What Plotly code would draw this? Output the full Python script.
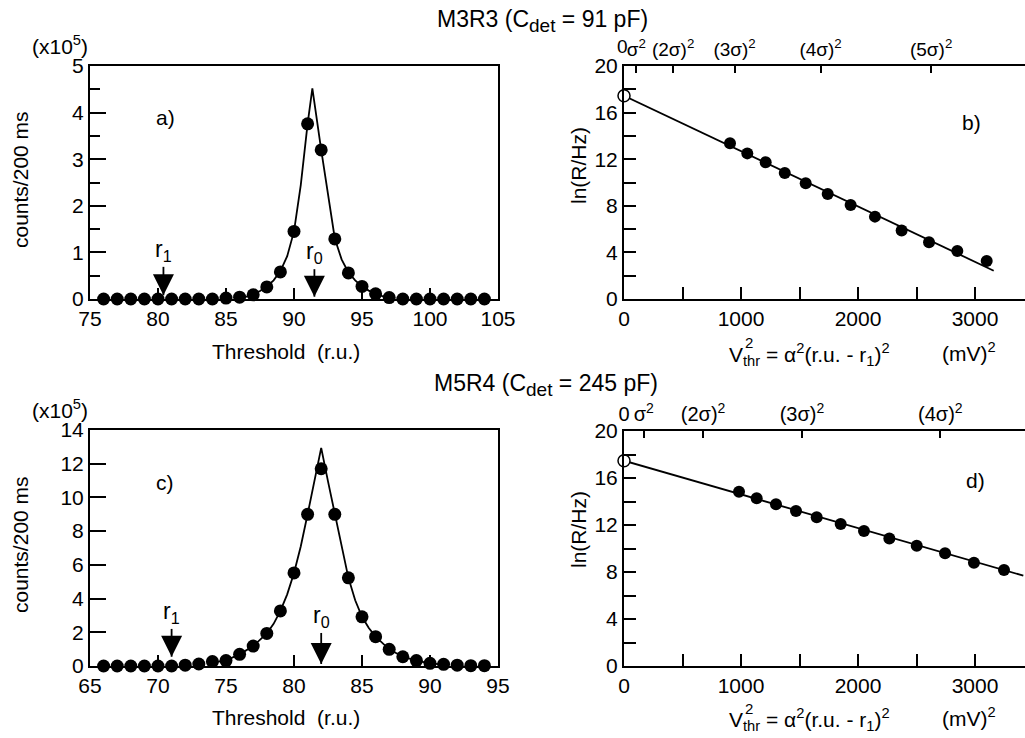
import plotly.graph_objects as go

W, H = 1025, 738
FONT = "Liberation Sans, Arial, Helvetica, sans-serif"
BLACK = "#000000"

# ---------------- data ----------------
# a) M3R3 threshold scan (counts in units of 1e5 per 200 ms)
thr_a = list(range(76, 105))
counts_a = [0, 0, 0, 0, 0, 0, 0, 0, 0, 0.02, 0.04, 0.09, 0.26, 0.58, 1.45,
            3.76, 3.2, 1.29, 0.56, 0.27, 0.11, 0.03, 0, 0, 0, 0, 0, 0, 0]
fit_thr_a = [86, 86.5, 87, 87.5, 88, 88.5, 89, 89.5, 90, 90.5, 91, 91.35,
             92, 92.5, 93, 93.5, 94, 94.5, 95, 95.5, 96, 96.5, 97]
fit_counts_a = [0.02, 0.05, 0.1, 0.17, 0.27, 0.4, 0.6, 0.92, 1.45, 2.45, 3.76, 4.52,
                3.2, 2.2, 1.3, 0.85, 0.57, 0.4, 0.27, 0.18, 0.11, 0.06, 0.03]
r1_a, r0_a = 80.4, 91.5

# b) ln(rate) vs V_thr^2 for M3R3
v2_b = [906, 1054, 1211, 1374, 1553, 1741, 1937, 2145, 2373, 2607, 2849, 3100]
lnr_b = [13.36, 12.5, 11.73, 10.82, 9.93, 9.01, 8.07, 7.07, 5.87, 4.87, 4.12, 3.26]
fit_v2_b = [0, 3160]
fit_lnr_b = [17.45, 2.43]
sigma2_b = 105

# c) M5R4 threshold scan
thr_c = list(range(66, 95))
counts_c = [0, 0, 0, 0, 0, 0, 0.05, 0.12, 0.26, 0.32, 0.69, 1.18, 1.93, 3.27, 5.52,
            9.0, 11.7, 9.0, 5.23, 2.92, 1.74, 0.99, 0.55, 0.32, 0.16, 0.1, 0.05, 0.02, 0.02]
fit_thr_c = [74, 75, 76, 77, 78, 78.5, 79, 79.5, 80, 80.5, 81, 81.5, 82, 82.5, 83,
             83.5, 84, 84.5, 85, 85.5, 86, 87, 88, 89, 90, 91]
fit_counts_c = [0.2, 0.33, 0.69, 1.18, 1.93, 2.5, 3.27, 4.25, 5.52, 7.1, 9.0, 10.95, 12.94,
                10.95, 9.0, 7.0, 5.23, 3.9, 2.92, 2.25, 1.74, 0.99, 0.55, 0.32, 0.16, 0.08]
r1_c, r0_c = 71.0, 82.0

# d) ln(rate) vs V_thr^2 for M5R4
v2_d = [983, 1134, 1299, 1470, 1647, 1852, 2051, 2268, 2502, 2744, 2991, 3248]
lnr_d = [14.83, 14.27, 13.76, 13.19, 12.65, 12.09, 11.49, 10.86, 10.24, 9.59, 8.79, 8.17]
fit_v2_d = [0, 3413]
fit_lnr_d = [17.47, 7.69]
sigma2_d = 169

sigma_labels = ["0", "σ<sup>2</sup>", "(2σ)<sup>2</sup>", "(3σ)<sup>2</sup>",
                "(4σ)<sup>2</sup>", "(5σ)<sup>2</sup>"]


def px(x):
    return x / W


def py(y):
    return 1 - y / H


fig = go.Figure()

marker = dict(color=BLACK, size=13, line=dict(width=0))
line = dict(color=BLACK, width=1.8)

# scan panels
for xs, ys, fx, fy, ax in [(thr_a, counts_a, fit_thr_a, fit_counts_a, ("x", "y")),
                           (thr_c, counts_c, fit_thr_c, fit_counts_c, ("x3", "y3"))]:
    fig.add_trace(go.Scatter(x=fx, y=fy, mode="lines", line=line,
                             xaxis=ax[0], yaxis=ax[1], cliponaxis=False, showlegend=False))
    fig.add_trace(go.Scatter(x=xs, y=ys, mode="markers", marker=marker,
                             xaxis=ax[0], yaxis=ax[1], cliponaxis=False, showlegend=False))

# ln(R) panels
for xs, ys, fx, fy, ax in [(v2_b, lnr_b, fit_v2_b, fit_lnr_b, ("x2", "y2")),
                           (v2_d, lnr_d, fit_v2_d, fit_lnr_d, ("x4", "y4"))]:
    fig.add_trace(go.Scatter(x=fx, y=fy, mode="lines", line=line,
                             xaxis=ax[0], yaxis=ax[1], cliponaxis=False, showlegend=False))
    fig.add_trace(go.Scatter(x=xs, y=ys, mode="markers", marker=dict(color=BLACK, size=12),
                             xaxis=ax[0], yaxis=ax[1], cliponaxis=False, showlegend=False))
    fig.add_trace(go.Scatter(x=fx[:1], y=fy[:1], mode="markers",
                             marker=dict(color="white", size=12, line=dict(color=BLACK, width=1.5)),
                             xaxis=ax[0], yaxis=ax[1], cliponaxis=False, showlegend=False))

# r1 / r0 arrows
arrows = [
    ("x", "y", r1_a, 0.08, 0.69, "r<sub>1</sub>"),
    ("x", "y", r0_a, 0.05, 0.64, "r<sub>0</sub>"),
    ("x3", "y3", r1_c, 0.55, 2.2, "r<sub>1</sub>"),
    ("x3", "y3", r0_c, 0.12, 1.96, "r<sub>0</sub>"),
]
annotations = []
shapes = []
for xa, ya, xv, tip, top, label in arrows:
    shapes.append(dict(type="line", xref=xa, yref=ya, x0=xv, x1=xv, y0=tip, y1=top,
                       line=dict(color=BLACK, width=1.8)))
    fig.add_trace(go.Scatter(x=[xv], y=[tip], mode="markers",
                             marker=dict(symbol="arrow-down", size=21, color=BLACK, line=dict(width=0)),
                             xaxis=xa, yaxis=ya, cliponaxis=False, showlegend=False))
    annotations.append(dict(xref=xa, yref=ya, x=xv, y=top, text=label, showarrow=False,
                            xanchor="center", yanchor="bottom", font=dict(size=23)))


# common axis style
def axis_style(**kw):
    d = dict(showline=True, linecolor=BLACK, linewidth=2, ticks="inside", tickcolor=BLACK,
             tickwidth=2, showgrid=False, zeroline=False, tickangle=0, automargin=False,
             tickfont=dict(size=21, color=BLACK), fixedrange=True)
    d.update(kw)
    return d


dom_a_x = [px(90), px(498)]
dom_b_x = [px(624), px(1025)]
dom_top_y = [py(299), py(66)]
dom_bot_y = [py(666), py(431)]

xr_b = [0, (1025 - 624) / 0.117]

layout_axes = dict(
    xaxis=axis_style(domain=dom_a_x, range=[75, 105], anchor="y", mirror=True,
                     tickvals=list(range(75, 106, 5)), ticklen=11),
    yaxis=axis_style(domain=dom_top_y, range=[0, 5], anchor="x", mirror=True,
                     tickvals=[0, 1, 2, 3, 4, 5], ticklen=16,
                     minor=dict(tickvals=[0.5, 1.5, 2.5, 3.5, 4.5], ticks="inside", ticklen=10,
                                tickwidth=2, tickcolor=BLACK, showgrid=False)),
    xaxis2=axis_style(domain=dom_b_x, range=xr_b, anchor="y2",
                      tickvals=[0, 500, 1000, 1500, 2000, 2500, 3000],
                      ticktext=["0", "", "1000", "", "2000", "", "3000"], ticklen=12),
    yaxis2=axis_style(domain=dom_top_y, range=[0, 20], anchor="x2",
                      tickvals=list(range(0, 21, 2)),
                      ticktext=["0", "", "4", "", "8", "", "12", "", "16", "", "20"], ticklen=12),
    xaxis5=axis_style(overlaying="x2", side="top", anchor="y2", range=xr_b,
                      tickvals=[k * k * sigma2_b for k in range(6)],
                      ticktext=[""] + sigma_labels[1:], ticklen=7,
                      tickfont=dict(size=19, color=BLACK)),
    xaxis3=axis_style(domain=dom_a_x, range=[65, 95], anchor="y3", mirror=True,
                      tickvals=list(range(65, 96, 5)), ticklen=11),
    yaxis3=axis_style(domain=[py(666), py(430)], range=[0, 14], anchor="x3", mirror=True,
                      tickvals=list(range(0, 15, 2)), ticklen=16),
    xaxis4=axis_style(domain=dom_b_x, range=xr_b, anchor="y4",
                      tickvals=[0, 500, 1000, 1500, 2000, 2500, 3000],
                      ticktext=["0", "", "1000", "", "2000", "", "3000"], ticklen=12),
    yaxis4=axis_style(domain=dom_bot_y, range=[0, 20], anchor="x4",
                      tickvals=list(range(0, 21, 2)),
                      ticktext=["0", "", "4", "", "8", "", "12", "", "16", "", "20"], ticklen=12),
    xaxis6=axis_style(overlaying="x4", side="top", anchor="y4", range=xr_b,
                      tickvals=[k * k * sigma2_d for k in range(5)],
                      ticktext=sigma_labels[:5], ticklen=7, tickfont=dict(size=20, color=BLACK)),
)

# placeholder traces so the top axes are drawn
fig.add_trace(go.Scatter(x=[None], y=[None], xaxis="x5", yaxis="y2", showlegend=False))
fig.add_trace(go.Scatter(x=[None], y=[None], xaxis="x6", yaxis="y4", showlegend=False))


def paper_text(x, y, text, size=21, **kw):
    d = dict(xref="paper", yref="paper", x=px(x), y=py(y), text=text, showarrow=False,
             font=dict(size=size, color=BLACK), xanchor="center", yanchor="middle")
    d.update(kw)
    return d


SUB = "<sub><span style='font-size:19px'>det</span></sub>"
annotations += [
    paper_text(542, 21, "M3R3 (C" + SUB + " = 91 pF)", size=23),
    paper_text(546, 385, "M5R4 (C" + SUB + " = 245 pF)", size=23),
    paper_text(60, 45, "(x10<sup>5</sup>)"),
    paper_text(60, 409, "(x10<sup>5</sup>)"),
    paper_text(20, 180, "counts/200 ms", textangle=-90),
    paper_text(20, 545, "counts/200 ms", textangle=-90),
    paper_text(578, 166, "ln(R/Hz)", textangle=-90),
    paper_text(578, 530, "ln(R/Hz)", textangle=-90),
    paper_text(286, 352, "Threshold  (r.u.)"),
    paper_text(286, 717, "Threshold  (r.u.)"),
    paper_text(165, 118, "a)"),
    paper_text(971, 122, "b)"),
    paper_text(165, 482, "c)"),
    paper_text(975, 480, "d)"),
    # origin label of the sigma scale in b), nudged so it clears "σ²"
    paper_text(622, 47, "0", size=19),
]
for yc in (354, 719):
    annotations += [
        paper_text(727, yc, "V<sub>thr</sub> = α<sup>2</sup>(r.u. - r<sub>1</sub>)<sup>2</sup>",
                   xanchor="left"),
        paper_text(743, yc - 11, "2", size=15, xanchor="left"),
        paper_text(940, yc - 2, "(mV)<sup>2</sup>", xanchor="left"),
    ]

fig.update_layout(
    width=W, height=H,
    margin=dict(l=0, r=0, t=0, b=0),
    paper_bgcolor="white", plot_bgcolor="rgba(0,0,0,0)",
    font=dict(family=FONT, color=BLACK, size=21),
    showlegend=False,
    annotations=annotations,
    shapes=shapes,
    **layout_axes,
)

fig.write_html("out.html", config={"displayModeBar": False})
